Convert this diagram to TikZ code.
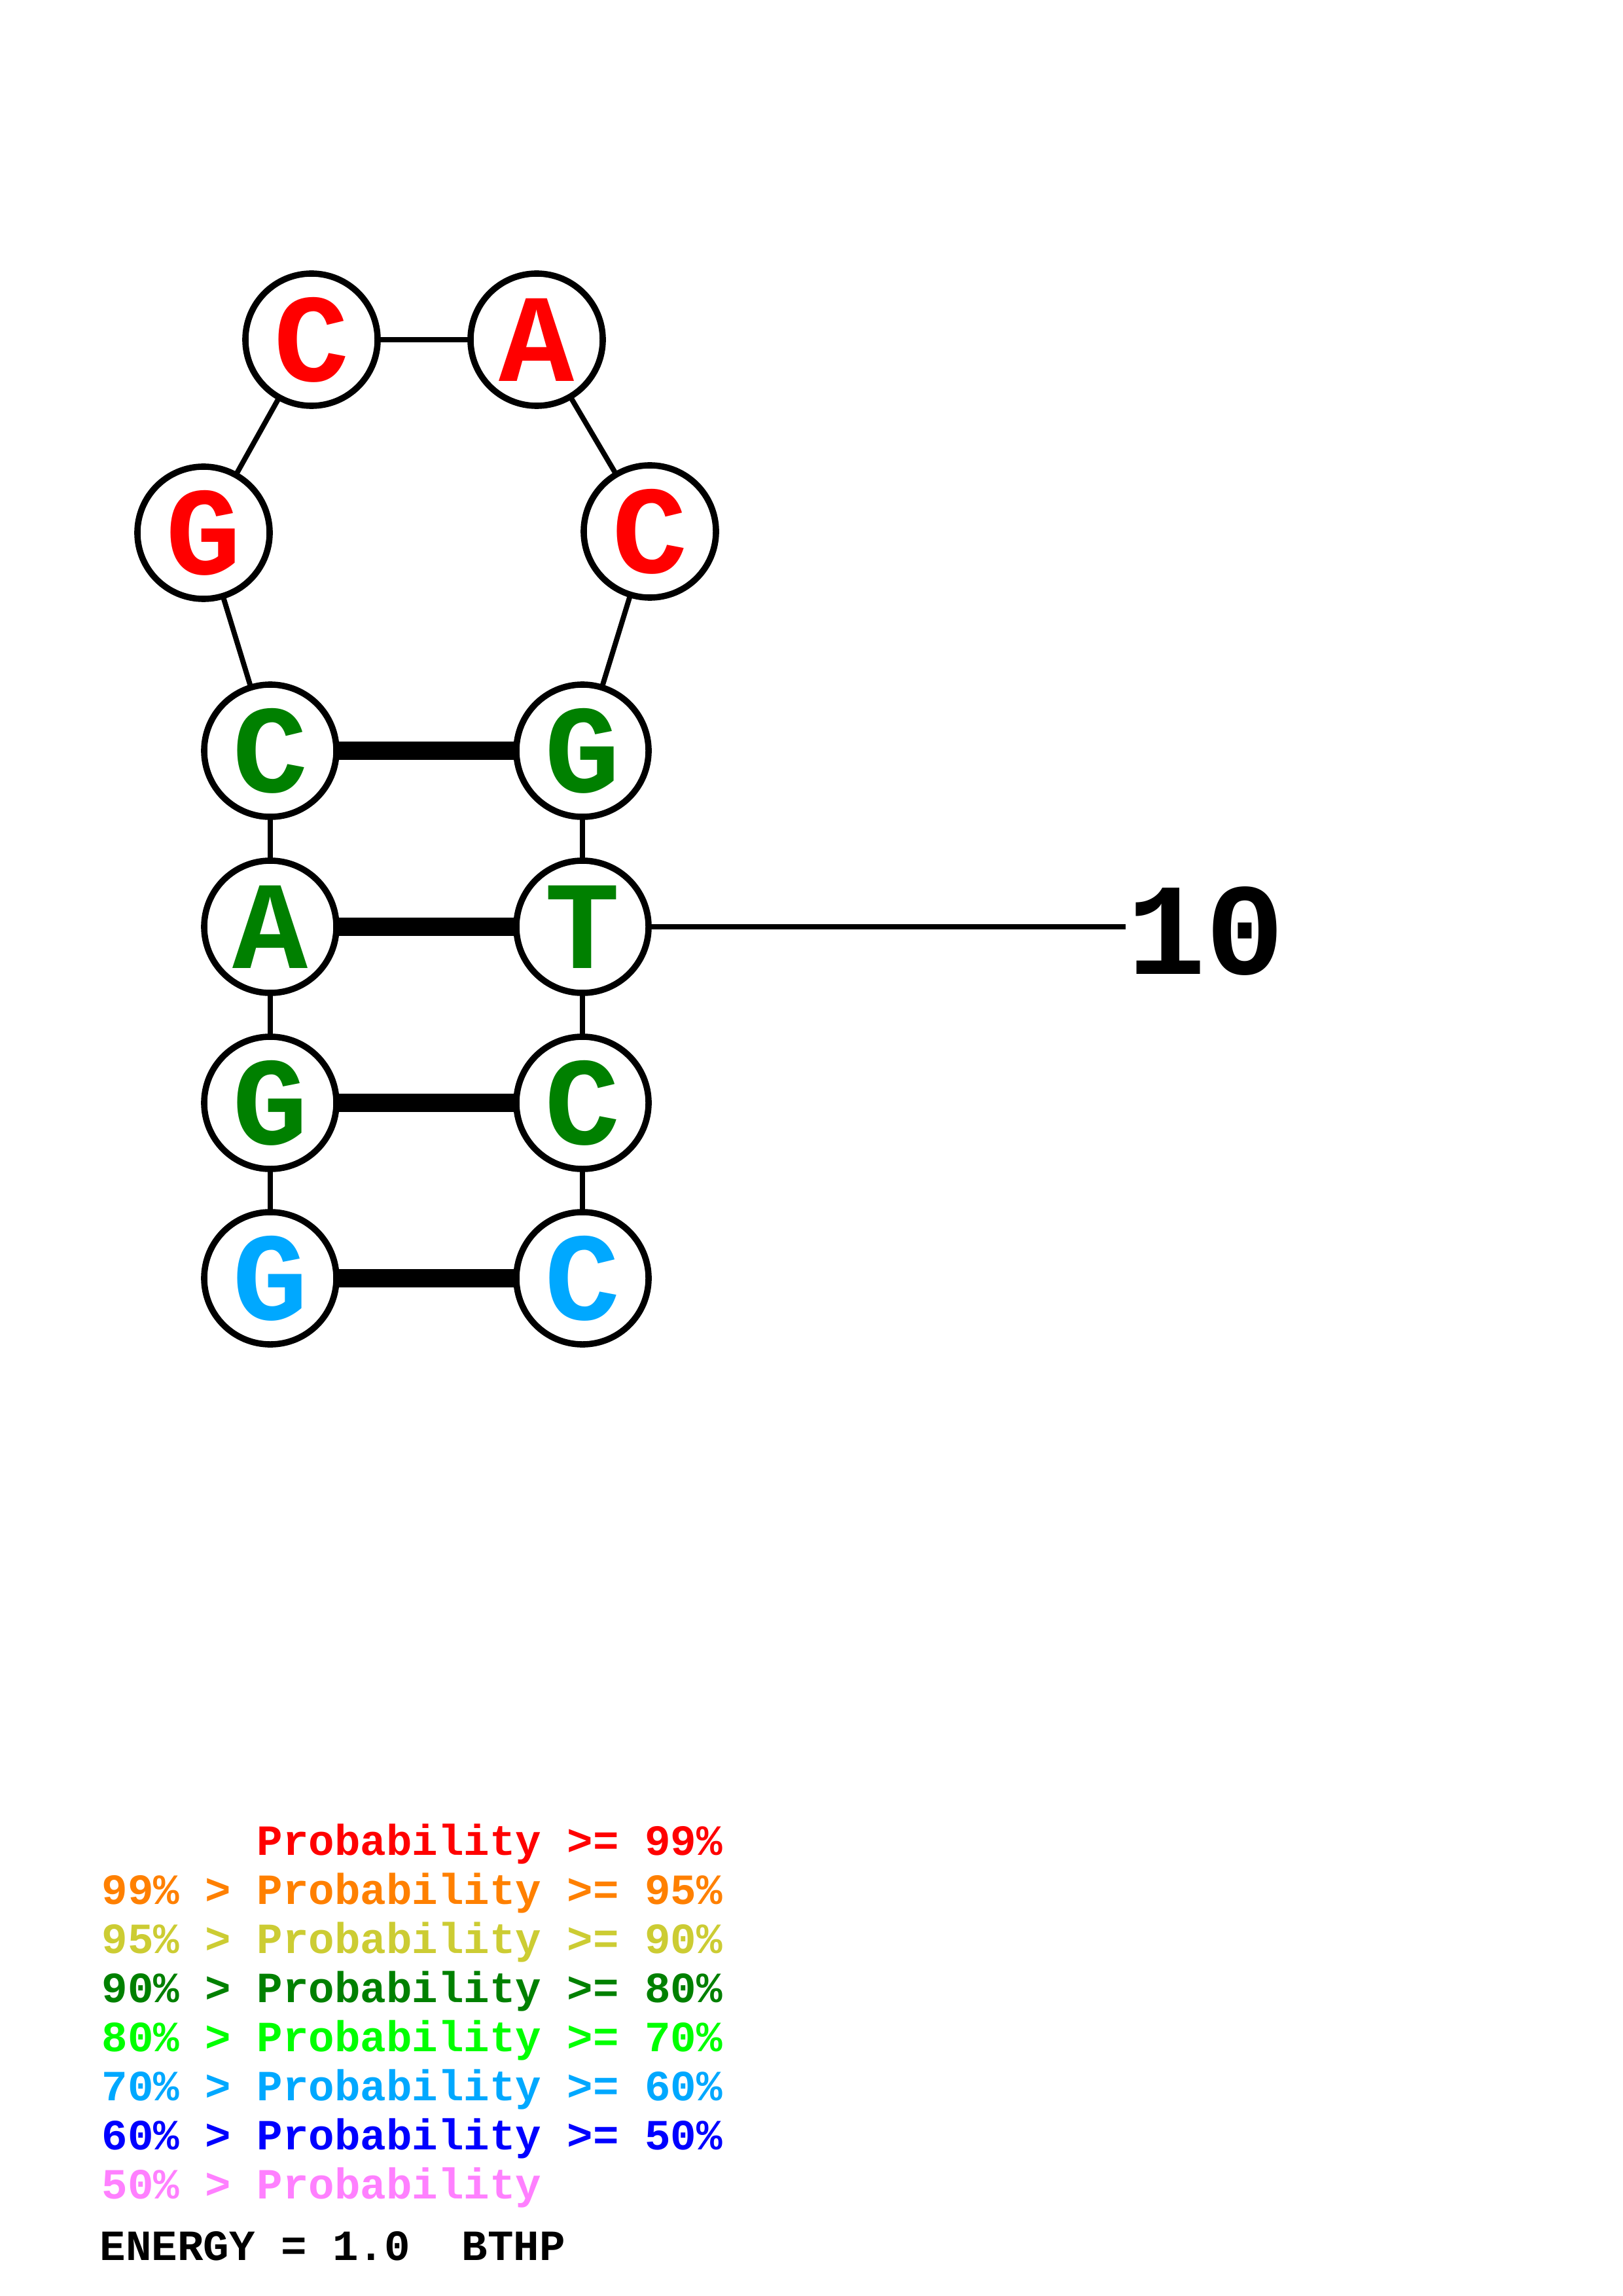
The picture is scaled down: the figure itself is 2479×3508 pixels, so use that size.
\documentclass[tikz,border=0pt]{standalone}
\usepackage{fontspec}
\setmonofont{Liberation Mono}
\definecolor{pred}{RGB}{255,0,0}
\definecolor{porange}{RGB}{255,128,0}
\definecolor{pyellow}{RGB}{204,204,51}
\definecolor{pdgreen}{RGB}{0,128,0}
\definecolor{pgreen}{RGB}{0,255,0}
\definecolor{pcyan}{RGB}{0,168,255}
\definecolor{pblue}{RGB}{0,0,255}
\definecolor{ppink}{RGB}{255,128,255}
\begin{document}
\begin{tikzpicture}[x=0.24pt,y=-0.24pt,
  base/.style={circle,draw=black,fill=white,line width=2.3pt,minimum size=48.5pt,inner sep=0pt,
    font=\fontsize{46}{46}\selectfont\ttfamily\bfseries},
  bb/.style={line width=1.9pt},
  pair/.style={line width=6.5pt},
  leg/.style={anchor=base west,inner sep=0pt,font=\fontsize{15.8}{15.8}\selectfont\ttfamily\bfseries}]
\useasboundingbox (0,0) rectangle (2479,3508);
\fill[white] (0,0) rectangle (2479,3508);
\path (476,519) coordinate (p4) (820,519) coordinate (p5)
      (311,814) coordinate (p3) (993,812) coordinate (p6)
      (413,1147) coordinate (p2) (890,1147) coordinate (p7)
      (413,1416) coordinate (p1x) (890,1416) coordinate (p8)
      (413,1685) coordinate (p0x) (890,1685) coordinate (p9)
      (413,1953) coordinate (pgx) (890,1953) coordinate (p10);
\coordinate (lab) at (1720,1416);
\draw[bb] (p8) -- (lab);
\draw[bb] (pgx) -- (p0x) -- (p1x) -- (p2) -- (p3) -- (p4) -- (p5) -- (p6) -- (p7) -- (p8) -- (p9) -- (p10);
\draw[pair] (p2) -- (p7);
\draw[pair] (p1x) -- (p8);
\draw[pair] (p0x) -- (p9);
\draw[pair] (pgx) -- (p10);
\node[base,text=pcyan] (n1) at (pgx) {G};
\node[base,text=pdgreen] (n2) at (p0x) {G};
\node[base,text=pdgreen] (n3) at (p1x) {A};
\node[base,text=pdgreen] (n4) at (p2) {C};
\node[base,text=pred] (n5) at (p3) {G};
\node[base,text=pred] (n6) at (p4) {C};
\node[base,text=pred] (n7) at (p5) {A};
\node[base,text=pred] (n8) at (p6) {C};
\node[base,text=pdgreen] (n9) at (p7) {G};
\node[base,text=pdgreen] (n10) at (p8) {T};
\node[base,text=pdgreen] (n11) at (p9) {C};
\node[base,text=pcyan] (n12) at (p10) {C};
\node[anchor=west,inner sep=0pt,font=\fontsize{48}{48}\selectfont\ttfamily\bfseries] (ten) at (1722,1423) {10};
% legend
\node[leg,text=pred] (l1) at (155,2834) {\phantom{99\%~>~}Probability~>=~99\%};
\node[leg,text=porange] (l2) at (155,2909) {99\%~>~Probability~>=~95\%};
\node[leg,text=pyellow] (l3) at (155,2984) {95\%~>~Probability~>=~90\%};
\node[leg,text=pdgreen] (l4) at (155,3059) {90\%~>~Probability~>=~80\%};
\node[leg,text=pgreen] (l5) at (155,3134) {80\%~>~Probability~>=~70\%};
\node[leg,text=pcyan] (l6) at (155,3209) {70\%~>~Probability~>=~60\%};
\node[leg,text=pblue] (l7) at (155,3284) {60\%~>~Probability~>=~50\%};
\node[leg,text=ppink] (l8) at (155,3359) {50\%~>~Probability};
\node[leg,text=black] (en) at (152,3453) {ENERGY~=~1.0~~BTHP};
\end{tikzpicture}
\end{document}
